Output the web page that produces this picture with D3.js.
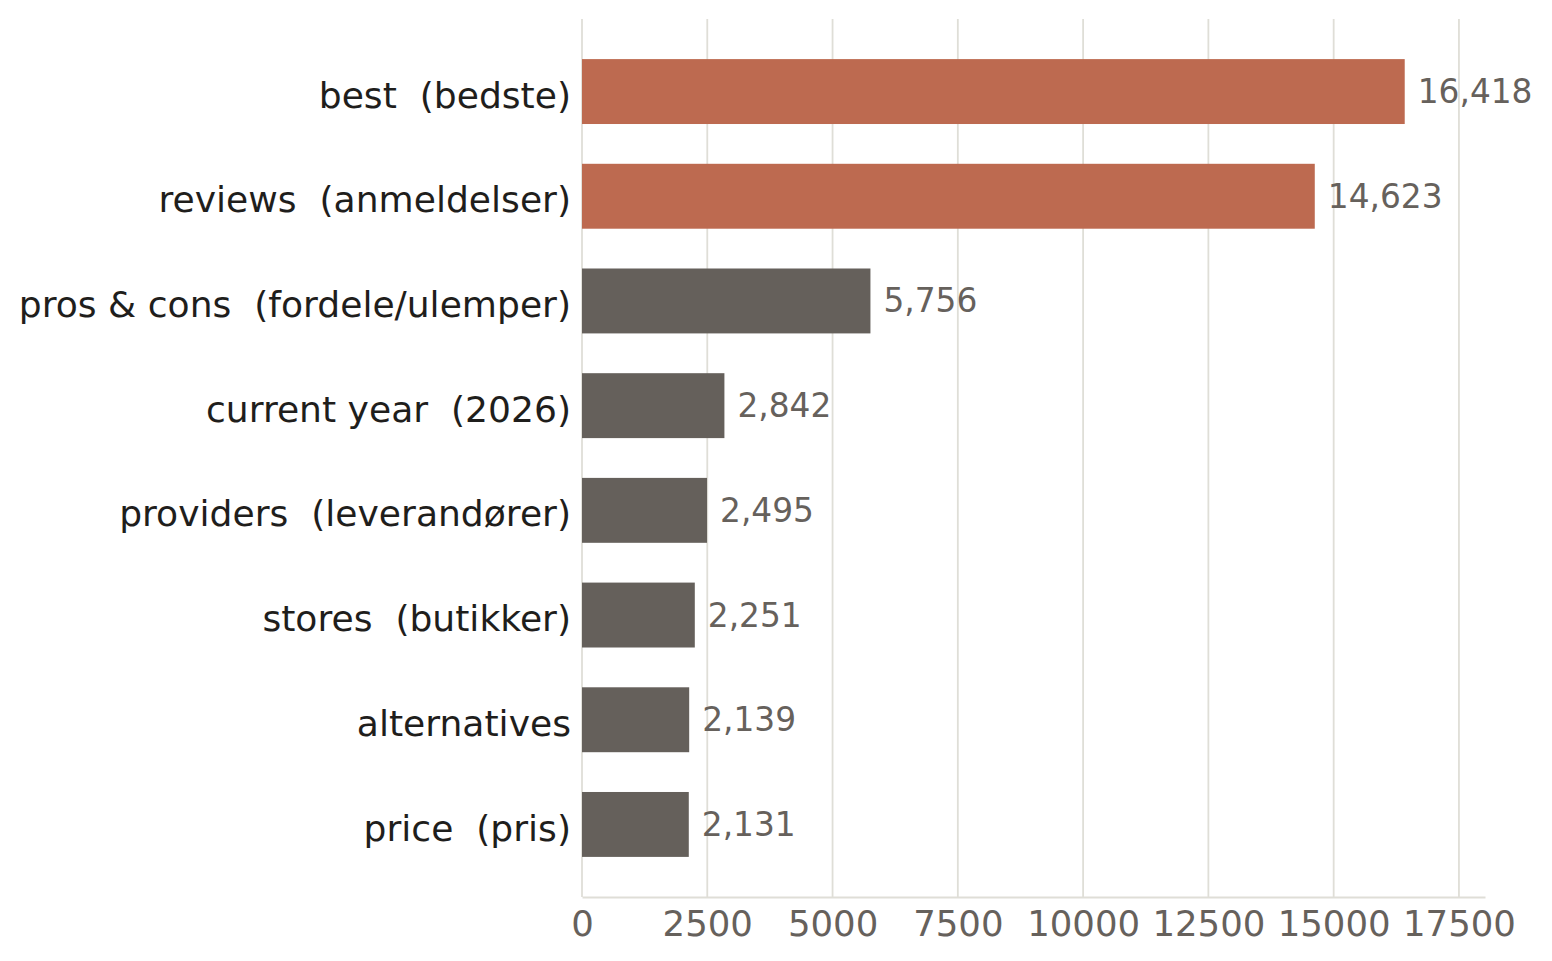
<!DOCTYPE html>
<html>
<head>
<meta charset="utf-8">
<script src="https://cdn.jsdelivr.net/npm/d3@7"></script>
<style>
  body { margin: 0; background: #fff; }
  text { font-family: "DejaVu Sans", sans-serif; white-space: pre; }
</style>
</head>
<body>
<script>
// data
const categories = [
  "best  (bedste)",
  "reviews  (anmeldelser)",
  "pros & cons  (fordele/ulemper)",
  "current year  (2026)",
  "providers  (leverandører)",
  "stores  (butikker)",
  "alternatives",
  "price  (pris)"
];
const values = [16418, 14623, 5756, 2842, 2495, 2251, 2139, 2131];
const highlighted = [true, true, false, false, false, false, false, false];
const tickValues = [0, 2500, 5000, 7500, 10000, 12500, 15000, 17500];

const width = 1552, height = 961;
const plotLeft = 582, plotRight = 1485, plotTop = 19, plotBottom = 897;

const svg = d3
  .select("body")
  .append("svg")
  .attr("width", width)
  .attr("height", height);

const x = d3.scaleLinear().domain([0, 18020]).range([plotLeft, plotRight]);
const y = d3.scaleBand()
  .domain(categories)
  .range([plotTop, plotBottom])
  .paddingInner(0.38)
  .paddingOuter(0.383);

// vertical grid lines
svg.append("g")
  .selectAll("line")
  .data(tickValues)
  .join("line")
  .attr("x1", d => x(d))
  .attr("x2", d => x(d))
  .attr("y1", plotTop)
  .attr("y2", plotBottom)
  .attr("stroke", "#dfded7")
  .attr("stroke-width", 1.8);

// bottom axis
const xAxis = svg.append("g")
  .attr("transform", `translate(0,${plotBottom})`)
  .call(d3.axisBottom(x).tickValues(tickValues).tickSize(0).tickPadding(14).tickFormat(d3.format("d")));
xAxis.select(".domain").attr("stroke", "#dfded7").attr("stroke-width", 1.8);
xAxis.selectAll("text")
  .attr("fill", "#66615c")
  .attr("font-size", 35.5)
  .attr("font-family", "DejaVu Sans");

// bars
const data = categories.map((c, i) => ({ c, v: values[i], hi: highlighted[i] }));

svg.append("g")
  .selectAll("rect")
  .data(data)
  .join("rect")
  .attr("x", x(0))
  .attr("y", d => y(d.c))
  .attr("width", d => x(d.v) - x(0))
  .attr("height", y.bandwidth())
  .attr("fill", d => d.hi ? "#bd6a50" : "#65605b");

// value labels
svg.append("g")
  .selectAll("text")
  .data(data)
  .join("text")
  .attr("x", d => x(d.v) + 13)
  .attr("y", d => y(d.c) + y.bandwidth() / 2)
  .attr("dy", "0.35em")
  .attr("fill", "#66615c")
  .attr("font-size", 32.8)
  .text(d => d3.format(",")(d.v));

// category labels
svg.append("g")
  .selectAll("text")
  .data(data)
  .join("text")
  .attr("x", plotLeft - 11)
  .attr("y", d => y(d.c) + y.bandwidth() / 2 + 3.5)
  .attr("dy", "0.35em")
  .attr("text-anchor", "end")
  .attr("fill", "#1f1e1c")
  .attr("font-size", 36.1)
  .text(d => d.c);
</script>
</body>
</html>
